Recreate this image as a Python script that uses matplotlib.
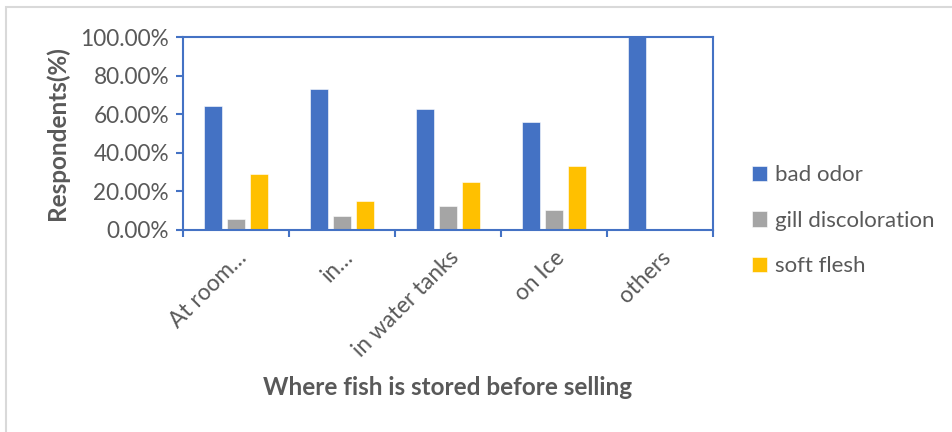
import matplotlib.pyplot as plt
import numpy as np
from matplotlib.patches import Rectangle
from matplotlib.ticker import FuncFormatter

plt.rcParams['font.family'] = ['Lato', 'DejaVu Sans']

# storage places and the share of respondents naming each spoilage sign
categories = ['At room…', 'in…', 'in water tanks', 'on Ice', 'others']
bad_odor = [64.3, 72.9, 62.5, 56.2, 100.0]
gill_discoloration = [5.7, 7.3, 12.5, 10.4, 0.0]
soft_flesh = [29.0, 15.0, 25.0, 33.3, 0.0]

series = [
    ('bad odor', bad_odor, '#4472C4'),
    ('gill discoloration', gill_discoloration, '#A5A5A5'),
    ('soft flesh', soft_flesh, '#FFC000'),
]

fig = plt.figure(figsize=(9.53, 4.32), dpi=100)
ax = fig.add_axes([183 / 953, 1 - 230 / 432, 530 / 953, 193 / 432])

# light frame round the chart area
fig.patches.append(Rectangle((6 / 953, -0.1), 1.2, (432 - 7) / 432 + 0.1,
                             transform=fig.transFigure, fill=False,
                             edgecolor='#D9D9D9', linewidth=1.5))

x = np.arange(len(categories))
width = 0.17
step = 0.217
for i, (name, vals, color) in enumerate(series):
    ax.bar(x + (i - 1) * step, vals, width, color=color, label=name,
           edgecolor='white', linewidth=0.4)

ax.set_xlim(-0.5, len(categories) - 0.5)
ax.set_ylim(0, 100)
ax.set_yticks(np.arange(0, 101, 20))
ax.yaxis.set_major_formatter(FuncFormatter(lambda v, p: f'{v:.2f}%'))
ax.set_xticks(np.arange(-0.5, len(categories), 1.0), minor=False)
ax.set_xticklabels([])
ax.set_xticks(x, minor=True)
ax.set_xticklabels(categories, minor=True, rotation=45, ha='right',
                   rotation_mode='anchor', fontsize=16.3, color='#595959')
ax.tick_params(axis='x', which='minor', length=0, pad=12)
ax.tick_params(axis='x', which='major', length=5, direction='out',
               color='#4472C4', width=1.5)
ax.tick_params(axis='y', length=5, direction='out', color='#4472C4',
               width=1.5, labelsize=16.3, labelcolor='#595959', pad=5)

for s in ax.spines.values():
    s.set_color('#4472C4')
    s.set_linewidth(1.5)

ax.set_ylabel('Respondents(%)', fontsize=17.5, fontweight='bold',
              color='#595959', labelpad=8)
ax.set_xlabel('Where fish is stored before selling', fontsize=17.5,
              fontweight='bold', color='#595959', labelpad=11)

leg = ax.legend(loc='center left', bbox_to_anchor=(1.035, 0.047),
                frameon=False, fontsize=16, handlelength=0.7,
                handleheight=0.7, handletextpad=0.35, labelspacing=1.15)
for t in leg.get_texts():
    t.set_color('#595959')

fig.savefig('out.png', dpi=100)
